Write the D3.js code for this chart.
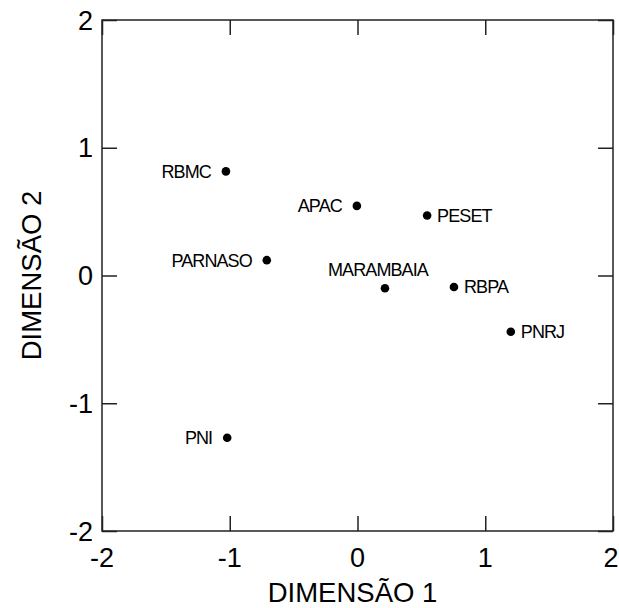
<!DOCTYPE html>
<html><head><meta charset="utf-8">
<script src="https://cdn.jsdelivr.net/npm/d3@7"></script>
<style>
html,body{margin:0;padding:0;background:#fff;}
svg{display:block;font-family:Arial,"Liberation Sans",sans-serif;}
</style></head>
<body>
<svg id="chart" width="619" height="608"></svg>
<script>
const sites = ["RBMC","APAC","PESET","PARNASO","MARAMBAIA","RBPA","PNRJ","PNI"];
const dim1  = [-1.03, -0.005, 0.545, -0.71, 0.215, 0.755, 1.20, -1.02];
const dim2  = [0.815, 0.545, 0.47, 0.12, -0.10, -0.09, -0.44, -1.27];
const labelSide = ["left","left","right","left","above","right","right","left"];
const tickValues = [-2,-1,0,1,2];
const xTitle = "DIMENSÃO 1";
const yTitle = "DIMENSÃO 2";

const W = 619;
const svg = d3.select("#chart");
const L = 102, R = 613, T = 20, B = 531;
const x = d3.scaleLinear().domain([-2,2]).range([L,R]);
const y = d3.scaleLinear().domain([-2,2]).range([B,T]);
const tickLen = 15;
const stroke = "#222";

function styleAxis(sel){
  sel.select(".domain").remove();
  sel.selectAll(".tick line").attr("stroke", stroke).attr("stroke-width", 1.5);
}
const g = svg.append("g");
g.append("g").attr("transform",`translate(0,${B})`).call(d3.axisBottom(x).tickValues(tickValues).tickSize(-tickLen).tickFormat("")).call(styleAxis);
g.append("g").attr("transform",`translate(0,${T})`).call(d3.axisTop(x).tickValues(tickValues).tickSize(-tickLen).tickFormat("")).call(styleAxis);
g.append("g").attr("transform",`translate(${L},0)`).call(d3.axisLeft(y).tickValues(tickValues).tickSize(-tickLen).tickFormat("")).call(styleAxis);
g.append("g").attr("transform",`translate(${R},0)`).call(d3.axisRight(y).tickValues(tickValues).tickSize(-tickLen).tickFormat("")).call(styleAxis);

// frame
svg.append("rect").attr("x",L).attr("y",T).attr("width",R-L).attr("height",B-T)
  .attr("fill","none").attr("stroke",stroke).attr("stroke-width",1.5);

// tick labels
const fmt = d => d < 0 ? "-" + Math.abs(d) : String(d);
svg.append("g").selectAll("text").data(tickValues).join("text")
  .attr("x", d => x(d)).attr("y", 567)
  .attr("text-anchor","middle").attr("font-size",27).attr("fill","#000")
  .text(fmt)
  .each(function(){
    const bb = this.getBBox();
    if (bb.x + bb.width > W - 0.5) {
      d3.select(this).attr("x", +d3.select(this).attr("x") - (bb.x + bb.width - (W - 0.5)));
    }
  });
svg.append("g").selectAll("text").data(tickValues).join("text")
  .attr("x", 93).attr("y", d => y(d)).attr("dy","0.36em")
  .attr("text-anchor","end").attr("font-size",27).attr("fill","#000")
  .text(fmt);

// axis titles
svg.append("text").attr("x",(L+R)/2-5).attr("y",602).attr("text-anchor","middle")
  .attr("font-size",27.5).attr("fill","#000").text(xTitle);
svg.append("text").attr("transform",`translate(41,${(T+B)/2}) rotate(-90)`)
  .attr("text-anchor","middle").attr("font-size",27.5).attr("fill","#000").text(yTitle);

// points
const data = sites.map((s,i)=>({name:s, x:dim1[i], y:dim2[i], side:labelSide[i]}));
svg.append("g").selectAll("circle").data(data).join("circle")
  .attr("cx", d => x(d.x)).attr("cy", d => y(d.y)).attr("r", 4.3).attr("fill","#000");

svg.append("g").selectAll("text").data(data).join("text")
  .attr("x", d => x(d.x) + (d.side==="left" ? -15 : d.side==="right" ? 10 : -7))
  .attr("y", d => y(d.y) + (d.side==="above" ? -12 : 0))
  .attr("dy", d => d.side==="above" ? "0" : "0.36em")
  .attr("text-anchor", d => d.side==="left" ? "end" : d.side==="right" ? "start" : "middle")
  .attr("font-size",18).attr("letter-spacing","-0.9px").attr("fill","#000")
  .text(d => d.name);
</script>
</body></html>
